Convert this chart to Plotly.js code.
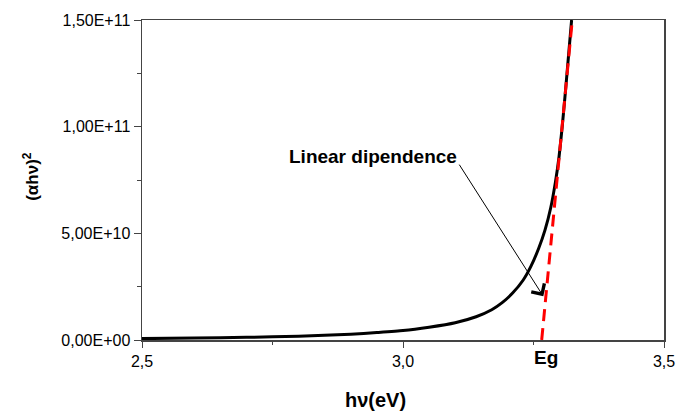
<!DOCTYPE html>
<html>
<head>
<meta charset="utf-8">
<script src="https://cdn.plot.ly/plotly-3.0.1.min.js"></script>
<style>html,body{margin:0;padding:0;background:#fff;}#chart{width:677px;height:411px;}</style>
</head>
<body>
<div id="chart"></div>
<script>
// Measured curve (αhν)^2 versus photon energy hν (eV)
var hv = [2.50, 2.60, 2.70, 2.80, 2.90, 2.95, 3.00, 3.05, 3.10, 3.14, 3.17, 3.19, 3.21, 3.23, 3.245, 3.26, 3.272, 3.283, 3.292, 3.299, 3.305, 3.311, 3.317, 3.323];
var ahv2 = [0.65e9, 0.9e9, 1.25e9, 1.75e9, 2.7e9, 3.5e9, 4.4e9, 6.0e9, 8.1e9, 1.09e10, 1.42e10, 1.75e10, 2.2e10, 2.8e10, 3.45e10, 4.3e10, 5.15e10, 6.2e10, 7.4e10, 8.6e10, 1.0e11, 1.16e11, 1.33e11, 1.5e11];
// Linear fit (extrapolation to the x axis gives Eg)
var fitX = [3.2657, 3.3243];
var fitY = [0, 1.5e11];
// Axis ticks
var xTickVals = [2.5, 3.0, 3.5];
var xTickText = ['2,5', '3,0', '3,5'];
var yTickVals = [0, 5e10, 1e11, 1.5e11];
var yTickText = ['0,00E+00', '5,00E+10', '1,00E+11', '1,50E+11'];
// Annotation anchors
var egX = 3.274;
var arrowTip = [3.2688, 2.05e10];
var arrowTail = [3.106, 8.29e10];
var labelPos = [2.9416, 8.59e10];

var traces = [
  {x: hv, y: ahv2, mode: 'lines', line: {color: '#000', width: 3, shape: 'spline', smoothing: 0.5}, hoverinfo: 'skip'},
  {x: fitX, y: fitY, mode: 'lines', line: {color: '#ff0000', width: 3, dash: '12px,7px'}, hoverinfo: 'skip'}
];

var axisCommon = {
  showline: true, linecolor: '#444', linewidth: 1.5, mirror: true,
  showgrid: false, zeroline: false, ticks: 'outside', tickcolor: '#444', tickwidth: 1
};

var layout = {
  width: 677, height: 411,
  margin: {l: 142, r: 13, t: 20, b: 71},
  paper_bgcolor: '#fff', plot_bgcolor: '#fff',
  showlegend: false,
  xaxis: Object.assign({}, axisCommon, {
    range: [2.5, 3.5], tickmode: 'array', tickvals: xTickVals, ticktext: xTickText, ticklen: 6,
    tickfont: {family: 'Liberation Sans, Arial, sans-serif', size: 16, color: '#000'},
    minor: {tickmode: 'linear', tick0: 2.5, dtick: 0.25, ticks: 'outside', ticklen: 3, tickcolor: '#444'}
  }),
  yaxis: Object.assign({}, axisCommon, {
    range: [0, 1.5e11], tickmode: 'array', tickvals: yTickVals, ticktext: yTickText, ticklen: 7,
    tickfont: {family: 'Liberation Sans, Arial, sans-serif', size: 16, color: '#000'},
    minor: {tickmode: 'linear', tick0: 0, dtick: 2.5e10, ticks: 'outside', ticklen: 4, tickcolor: '#444'}
  }),
  annotations: [
    {x: arrowTip[0], y: arrowTip[1], xref: 'x', yref: 'y', ax: arrowTail[0], ay: arrowTail[1], axref: 'x', ayref: 'y',
     text: '', showarrow: true, arrowhead: 4, arrowsize: 3, arrowwidth: 1, arrowcolor: '#000', standoff: 0, startstandoff: 0},
    {x: labelPos[0], y: labelPos[1], xref: 'x', yref: 'y', text: '<b>Linear dipendence</b>', showarrow: false,
     font: {family: 'Liberation Sans, Arial, sans-serif', size: 19, color: '#000'}, xanchor: 'center', yanchor: 'middle'},
    {x: egX, y: -0.055, xref: 'x', yref: 'paper', text: '<b>Eg</b>', showarrow: false,
     font: {family: 'Liberation Sans, Arial, sans-serif', size: 19, color: '#000'}, xanchor: 'center', yanchor: 'middle'},
    {x: 0.448, y: -0.189, xref: 'paper', yref: 'paper', text: '<b>hν(eV)</b>', showarrow: false,
     font: {family: 'Liberation Sans, Arial, sans-serif', size: 20, color: '#000'}, xanchor: 'center', yanchor: 'middle'},
    {x: -0.2126, y: 0.51, xref: 'paper', yref: 'paper', text: '<b>(αhν)<sup>2</sup></b>', showarrow: false, textangle: -90,
     font: {family: 'Liberation Sans, Arial, sans-serif', size: 17, color: '#000'}, xanchor: 'center', yanchor: 'middle'}
  ]
};

Plotly.newPlot('chart', traces, layout, {staticPlot: true, displayModeBar: false});
</script>
</body>
</html>
